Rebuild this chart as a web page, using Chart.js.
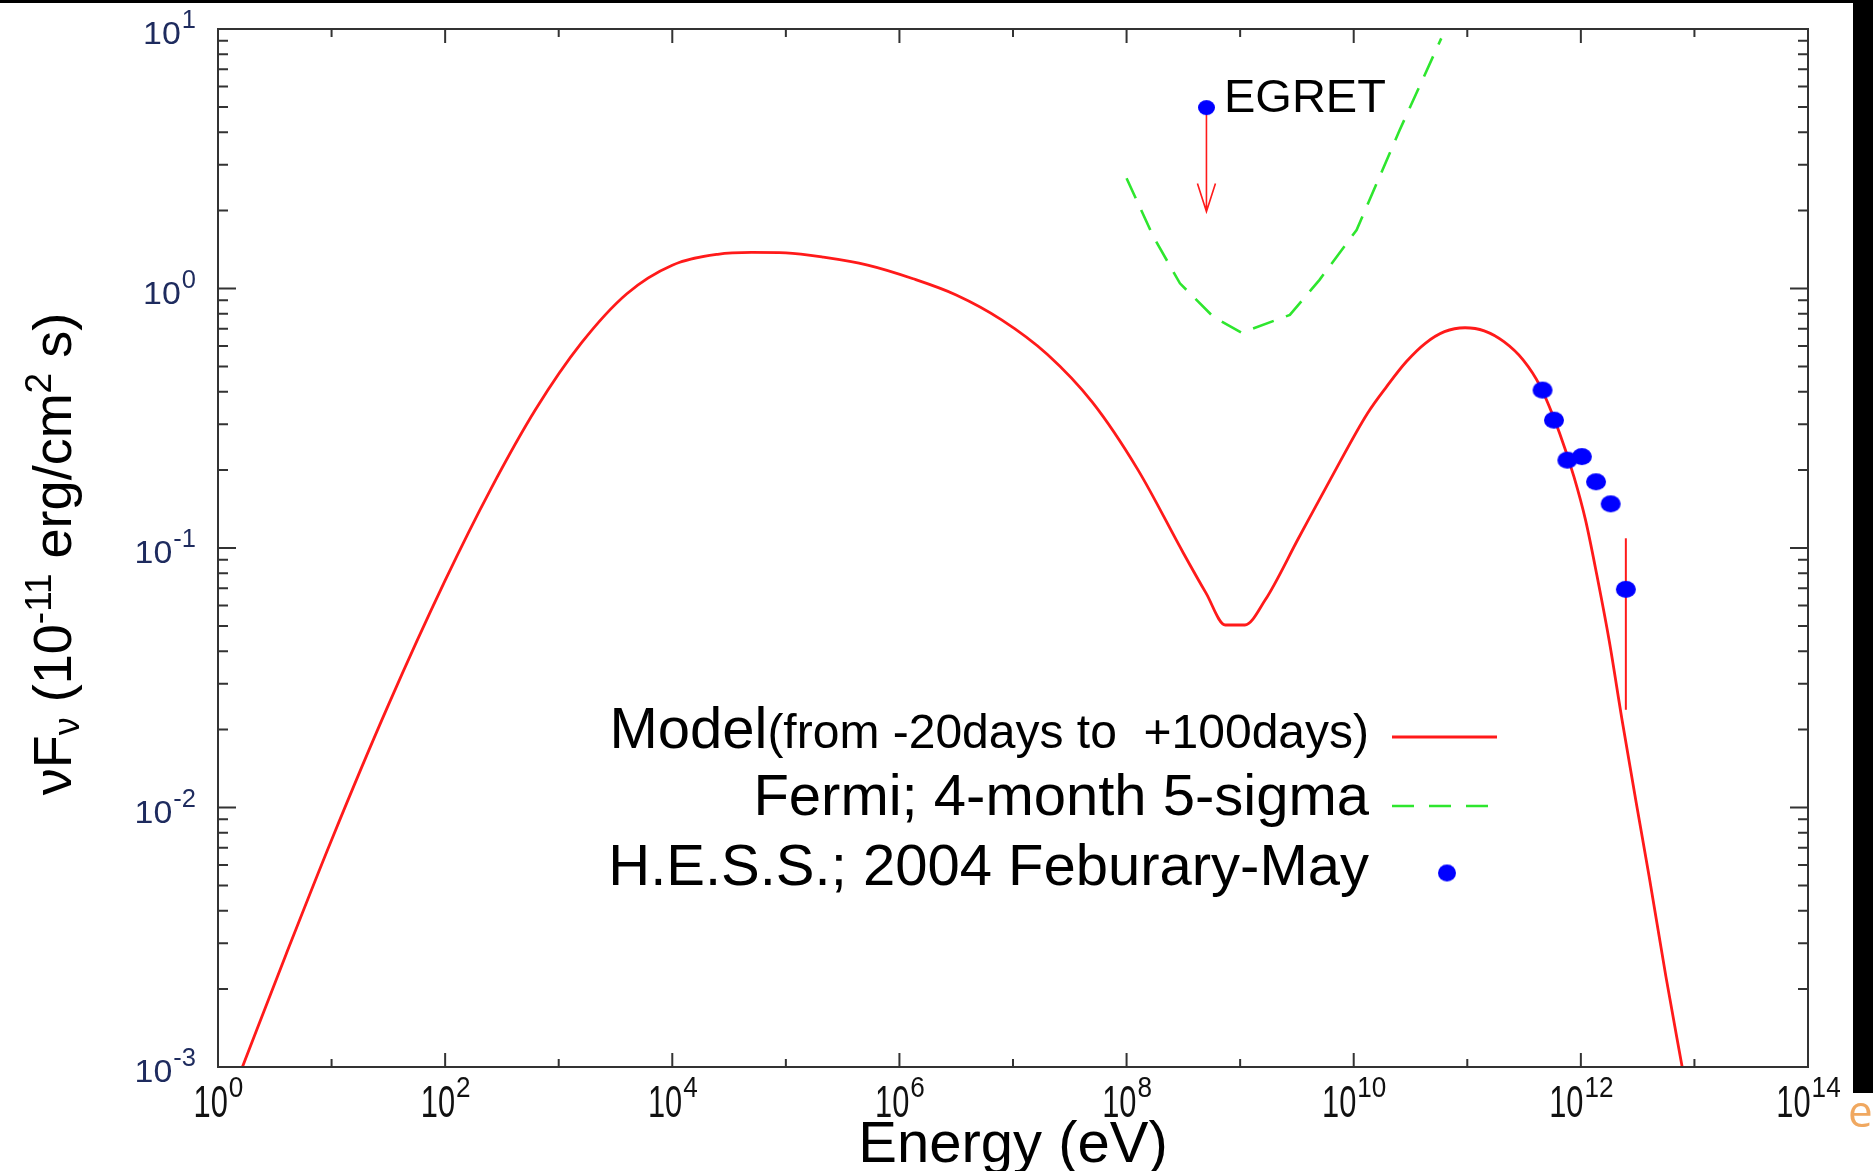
<!DOCTYPE html>
<html>
<head>
<meta charset="utf-8">
<script src="https://cdn.jsdelivr.net/npm/chart.js@4.4.0/dist/chart.umd.min.js"></script>
<style>
  html, body { margin: 0; padding: 0; background: #fff; }
  #wrap { position: relative; width: 1873px; height: 1171px; overflow: hidden; background: #fff; }
  #sed { position: absolute; left: 0; top: 0; }
  .band-top { position: absolute; left: 0; top: 0; width: 1873px; height: 3px; background: #000; }
  .band-right { position: absolute; left: 1853px; top: 0; width: 20px; height: 1093px; background: #000; }
  .slide-e { position: absolute; left: 1848px; top: 1088px; font-size: 44px; line-height: 44px;
             font-family: "Open Sans", "Noto Sans", sans-serif; color: #f0a860; }
</style>
</head>
<body>
<div id="wrap">
  <canvas id="sed" width="1873" height="1171"></canvas>
  <div class="band-top"></div>
  <div class="band-right"></div>
  <div class="slide-e">e</div>
</div>
<script>
(function() {
  "use strict";

  // model SED (eV, 10^-11 erg/cm2 s)
  var modelEnergy = [1.64, 3.98, 10, 31.6, 100, 251, 631, 1585, 3981, 1e4, 2.51e4, 5.0e4,
    1e5, 2.14e5, 5.25e5, 1.32e6, 3.16e6, 7.94e6, 2.0e7, 5.01e7, 1.26e8, 3.16e8, 5.01e8,
    7.4e8, 1.1e9, 1.66e9, 3.3e9, 6.2e9, 1.32e10, 1.95e10, 2.9e10, 4.27e10, 6.3e10, 9.55e10,
    1.41e11, 2.1e11, 3.1e11, 4.4e11, 6.5e11, 8.7e11, 1.1e12, 1.38e12, 1.78e12, 2.3e12,
    3.1e12, 4.0e12, 5.6e12, 7.8e12];
  var modelFlux = [1.0e-3, 2.72e-3, 7.5e-3, 2.48e-2, 7.5e-2, 0.168, 0.344, 0.617, 0.955, 1.23, 1.355, 1.377,
    1.371, 1.32, 1.23, 1.09, 0.944, 0.757, 0.558, 0.364, 0.200, 0.0957, 0.067,
    0.0505, 0.0505, 0.063, 0.110, 0.183, 0.330, 0.419, 0.522, 0.615, 0.682, 0.706,
    0.687, 0.624, 0.531, 0.419, 0.277, 0.188, 0.128, 0.079, 0.0437, 0.0219,
    0.0102, 0.0054, 0.00224, 0.001];

  // Fermi 4-month 5-sigma sensitivity
  var fermiEnergy = [1e8, 1.72e8, 2.95e8, 5.8e8, 1.03e9, 2.74e9, 5.0e9, 1.06e10, 2.54e10, 5.9e10];
  var fermiFlux = [2.66, 1.585, 1.047, 0.778, 0.675, 0.791, 1.08, 1.68, 4.08, 9.2];

  // H.E.S.S. points
  var hessEnergy = [4.6e11, 5.8e11, 7.6e11, 1.02e12, 1.36e12, 1.83e12, 2.49e12];
  var hessFlux = [0.406, 0.311, 0.218, 0.225, 0.180, 0.148, 0.0693];
  var hessErrLow = [null, null, null, null, null, null, 0.0238];
  var hessErrHigh = [null, null, null, null, null, null, 0.109];

  // EGRET upper limit
  var egretEnergy = [5.05e8];
  var egretFlux = [4.98];
  var egretLimitTo = [1.98];

  var yTickValues = [1e-3, 1e-2, 1e-1, 1, 10];
  var yTickExp = ["-3", "-2", "-1", "0", "1"];
  var xTickValues = [1, 1e2, 1e4, 1e6, 1e8, 1e10, 1e12, 1e14];
  var xTickExp = ["0", "2", "4", "6", "8", "10", "12", "14"];

  var FONT = '"Liberation Sans", Arial, Helvetica, sans-serif';
  var RED = "#ff1a1a", GREEN = "#2ee62e", BLUE = "#0000ff";

  var pairs = function(xs, ys) {
    return xs.map(function(v, i) { return { x: v, y: ys[i] }; });
  };

  var ellipseDot = function(w, h) {
    var c = document.createElement("canvas");
    c.width = w + 2; c.height = h + 2;
    var g = c.getContext("2d");
    g.fillStyle = BLUE;
    g.beginPath();
    g.ellipse((w + 2) / 2, (h + 2) / 2, w / 2, h / 2, 0, 0, Math.PI * 2);
    g.fill();
    return c;
  };
  var hessDot = ellipseDot(20, 17);
  var egretDot = ellipseDot(17, 15);

  // "10" with a superscript, optionally squeezed horizontally
  var drawPow = function(ctx, x, baseY, exp, o) {
    ctx.font = o.base + "px " + FONT;
    var w1 = ctx.measureText("10").width * o.bs;
    ctx.font = o.sup + "px " + FONT;
    var w2 = ctx.measureText(exp).width * o.ss;
    var x0 = o.align === "right" ? x - w1 - w2 : x - (w1 + w2) / 2;
    ctx.save();
    ctx.translate(x0, baseY);
    ctx.scale(o.bs, 1);
    ctx.font = o.base + "px " + FONT;
    ctx.fillText("10", 0, 0);
    ctx.restore();
    ctx.save();
    ctx.translate(x0 + w1 + 1, baseY - o.rise);
    ctx.scale(o.ss, 1);
    ctx.font = o.sup + "px " + FONT;
    ctx.fillText(exp, 0, 0);
    ctx.restore();
  };

  // text runs: [text, size, baseline offset]
  var runsWidth = function(ctx, runs) {
    var w = 0;
    runs.forEach(function(r) { ctx.font = r[1] + "px " + FONT; w += ctx.measureText(r[0]).width; });
    return w;
  };
  var drawRuns = function(ctx, runs, x, y) {
    runs.forEach(function(r) {
      ctx.font = r[1] + "px " + FONT;
      ctx.fillText(r[0], x, y + r[2]);
      x += ctx.measureText(r[0]).width;
    });
  };

  var decorPlugin = {
    id: "decor",
    beforeDatasetsDraw: function(chart) {
      var ctx = chart.ctx, xs = chart.scales.x, ys = chart.scales.y;
      ctx.save();
      ctx.strokeStyle = RED;
      ctx.lineWidth = 1.6;
      // EGRET arrow
      var ex = xs.getPixelForValue(egretEnergy[0]);
      var ey0 = ys.getPixelForValue(egretFlux[0]);
      var ey1 = ys.getPixelForValue(egretLimitTo[0]);
      ctx.beginPath();
      ctx.moveTo(ex, ey0); ctx.lineTo(ex, ey1);
      ctx.moveTo(ex - 9, ey1 - 28); ctx.lineTo(ex, ey1); ctx.lineTo(ex + 9, ey1 - 28);
      ctx.stroke();
      // HESS error bars
      ctx.lineWidth = 2;
      hessEnergy.forEach(function(e, i) {
        if (hessErrLow[i] === null) return;
        var px = xs.getPixelForValue(e);
        ctx.beginPath();
        ctx.moveTo(px, ys.getPixelForValue(hessErrHigh[i]));
        ctx.lineTo(px, ys.getPixelForValue(hessErrLow[i]));
        ctx.stroke();
      });
      ctx.restore();
    },
    afterDatasetsDraw: function(chart) {
      var ctx = chart.ctx, xs = chart.scales.x, ys = chart.scales.y;
      var a = chart.chartArea;
      var i, k, p, len;
      ctx.save();

      // frame and ticks
      ctx.strokeStyle = "#333";
      ctx.lineWidth = 2;
      ctx.strokeRect(a.left, a.top, a.right - a.left, a.bottom - a.top);
      ctx.beginPath();
      for (i = 0; i < yTickValues.length; i++) {
        p = ys.getPixelForValue(yTickValues[i]);
        ctx.moveTo(a.left, p); ctx.lineTo(a.left + 18, p);
        ctx.moveTo(a.right, p); ctx.lineTo(a.right - 18, p);
        if (i < yTickValues.length - 1) {
          for (k = 2; k <= 9; k++) {
            p = ys.getPixelForValue(yTickValues[i] * k);
            ctx.moveTo(a.left, p); ctx.lineTo(a.left + 10, p);
            ctx.moveTo(a.right, p); ctx.lineTo(a.right - 10, p);
          }
        }
      }
      for (i = 1; i < 14; i++) {
        p = xs.getPixelForValue(Math.pow(10, i));
        len = i % 2 === 0 ? 14 : 8;
        ctx.moveTo(p, a.bottom); ctx.lineTo(p, a.bottom - len);
        ctx.moveTo(p, a.top); ctx.lineTo(p, a.top + len);
      }
      ctx.stroke();

      // tick labels
      ctx.textAlign = "left";
      ctx.textBaseline = "alphabetic";
      ctx.fillStyle = "#1e2b5e";
      for (i = 0; i < yTickValues.length; i++) {
        p = ys.getPixelForValue(yTickValues[i]);
        drawPow(ctx, a.left - 23, p + 15, yTickExp[i],
          { base: 32, sup: 25, bs: 1.06, ss: 1.02, rise: 16, align: "right" });
      }
      ctx.fillStyle = "#111";
      for (i = 0; i < xTickValues.length; i++) {
        p = xs.getPixelForValue(xTickValues[i]);
        drawPow(ctx, p, a.bottom + 50, xTickExp[i],
          { base: 44, sup: 29, bs: 0.7, ss: 0.9, rise: 20, align: "center" });
      }

      // axis titles
      ctx.fillStyle = "#000";
      ctx.font = "58px " + FONT;
      ctx.textAlign = "center";
      ctx.fillText("Energy (eV)", 1013, 1162);
      ctx.textAlign = "left";
      var yt = [["\u03bdF", 54, 0], ["\u03bd", 36, 8], [" (10", 54, 0], ["-11", 37, -20],
        [" erg/cm", 54, 0], ["2", 37, -20], [" s)", 54, 0]];
      ctx.save();
      ctx.translate(71, 554);
      ctx.rotate(-Math.PI / 2);
      drawRuns(ctx, yt, -runsWidth(ctx, yt) / 2, 0);
      ctx.restore();

      // EGRET label
      ctx.font = "47px " + FONT;
      ctx.fillText("EGRET", 1224, 112);

      // legend
      var rx = 1369;
      var l1 = [["Model", 58, 0], ["(from -20days to  +100days)", 48, 0]];
      drawRuns(ctx, l1, rx - runsWidth(ctx, l1), 748);
      ctx.textAlign = "right";
      ctx.font = "58px " + FONT;
      ctx.fillText("Fermi; 4-month 5-sigma", rx, 815);
      ctx.fillText("H.E.S.S.; 2004 Feburary-May", rx, 885);
      ctx.lineWidth = 3;
      ctx.strokeStyle = RED;
      ctx.beginPath(); ctx.moveTo(1392, 737); ctx.lineTo(1497, 737); ctx.stroke();
      ctx.strokeStyle = GREEN;
      ctx.lineWidth = 2.6;
      ctx.setLineDash([22, 15]);
      ctx.beginPath(); ctx.moveTo(1392, 806); ctx.lineTo(1497, 806); ctx.stroke();
      ctx.setLineDash([]);
      ctx.drawImage(ellipseDot(18, 17), 1447 - 10, 873 - 9.5);
      ctx.restore();
    }
  };

  new Chart(document.getElementById("sed").getContext("2d"), {
    type: "scatter",
    data: {
      datasets: [
        { label: "H.E.S.S.; 2004 Feburary-May", data: pairs(hessEnergy, hessFlux),
          pointStyle: hessDot, pointRadius: 10, showLine: false },
        { label: "EGRET", data: pairs(egretEnergy, egretFlux),
          pointStyle: egretDot, pointRadius: 9, showLine: false },
        { label: "Model", data: pairs(modelEnergy, modelFlux), showLine: true,
          borderColor: RED, borderWidth: 2.8, pointRadius: 0, cubicInterpolationMode: "monotone" },
        { label: "Fermi; 4-month 5-sigma", data: pairs(fermiEnergy, fermiFlux), showLine: true,
          borderColor: GREEN, borderWidth: 2.6, borderDash: [22, 13], pointRadius: 0, tension: 0 }
      ]
    },
    options: {
      responsive: false,
      animation: false,
      devicePixelRatio: 1,
      layout: { padding: { left: 218, right: 65, top: 29, bottom: 104 } },
      plugins: { legend: { display: false }, tooltip: { enabled: false } },
      scales: {
        x: { type: "logarithmic", min: 1, max: 1e14, display: false },
        y: { type: "logarithmic", min: 1e-3, max: 10, display: false }
      }
    },
    plugins: [decorPlugin]
  });
})();
</script>
</body>
</html>
